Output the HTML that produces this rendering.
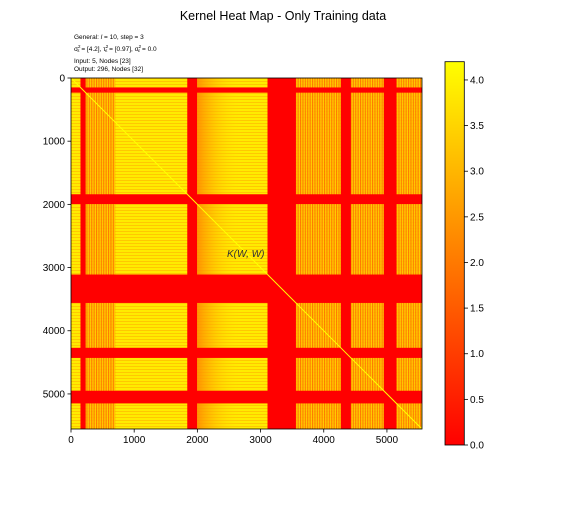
<!DOCTYPE html>
<html><head><meta charset="utf-8"><style>
body{margin:0;background:#fff;}
svg text{font-family:"Liberation Sans","DejaVu Sans",sans-serif;}
</style></head><body>
<svg id="c" width="566" height="510" xmlns="http://www.w3.org/2000/svg">
<defs>
<linearGradient id="cb" x1="0" y1="1" x2="0" y2="0"><stop offset="0" stop-color="#ff0000"/><stop offset="1" stop-color="#ffff00"/></linearGradient>
<pattern id="stripes" width="2.4" height="6" patternUnits="userSpaceOnUse"><rect width="2.4" height="6" fill="#ffc800"/><rect width="1.1" height="6" fill="#ff6a00"/></pattern>
<pattern id="hstripes" width="6" height="3" patternUnits="userSpaceOnUse"><rect width="6" height="3" fill="#ffe600"/><rect width="6" height="1" fill="#ff9000"/></pattern>
<linearGradient id="fade" x1="0" y1="0" x2="1" y2="0"><stop offset="0" stop-color="#ff8a00" stop-opacity="0.9"/><stop offset="1" stop-color="#ffee00" stop-opacity="0"/></linearGradient>
<clipPath id="plotclip"><rect x="71" y="78" width="351" height="351"/></clipPath>
</defs>
<text x="283" y="20" text-anchor="middle" font-size="12.5">Kernel Heat Map - Only Training data</text>
<g font-size="6.5" fill="#000">
<text x="74" y="39">General: <tspan font-style="italic">l</tspan> = 10, step = 3</text>
<text x="74" y="51">σ<tspan font-size="4.5" dy="-3">2</tspan><tspan font-size="4.5" dy="4" dx="-3">ε</tspan><tspan dy="-1"> = [4.2], τ</tspan><tspan font-size="4.5" dy="-3">2</tspan><tspan font-size="4.5" dy="4" dx="-3">ε</tspan><tspan dy="-1"> = [0.97], σ</tspan><tspan font-size="4.5" dy="-3">2</tspan><tspan font-size="4.5" dy="4" dx="-3">ε</tspan><tspan dy="-1"> = 0.0</tspan></text>
<text x="74" y="63">Input: 5, Nodes [23]</text>
<text x="74" y="71">Output: 296, Nodes [32]</text>
</g>
<g id="heat" clip-path="url(#plotclip)"></g>
<rect x="71" y="78" width="351" height="351" fill="none" stroke="#000" stroke-width="0.8"/>
<g id="axes"></g>
<rect x="445" y="61.7" width="19.3" height="383.3" fill="url(#cb)" stroke="#000" stroke-width="0.8"/>
<g id="cbticks"></g>
<text x="227" y="257" font-size="10" font-style="italic" fill="#333">K(W, W)</text>
</svg>
<script>
const N = 5555;
const xTicks = [0, 1000, 2000, 3000, 4000, 5000];
const yTicks = [0, 1000, 2000, 3000, 4000, 5000];
const cbTicks = [0.0, 0.5, 1.0, 1.5, 2.0, 2.5, 3.0, 3.5, 4.0];
const cbMax = 4.2;
const redBandStart = [150, 1840, 3110, 4270, 4950];
const redBandEnd = [232, 1995, 3560, 4430, 5150];
const stripeStart = [3560, 4430, 5150, 232];
const stripeEnd = [4270, 4950, 5555, 700];
const fadeStart = [1995];
const fadeEnd = [2700];
const diagStart = [0, 1840, 3110, 4270];
const diagEnd = [1840, 3110, 4270, 5555];

const X0 = 71, Y0 = 78, W = 351;
const sx = v => X0 + v / N * W;
const sy = v => Y0 + v / N * W;
const cbY = v => 445 - v / cbMax * 383.3;
const NS = 'http://www.w3.org/2000/svg';
function mk(tag, attrs, parent) {
  const e = document.createElementNS(NS, tag);
  for (const k in attrs) e.setAttribute(k, attrs[k]);
  parent.appendChild(e); return e;
}
const heat = document.getElementById('heat');
let r = mk('rect', {x: X0, y: Y0, width: W, height: W, fill: '#ffee00'}, heat);


r = mk('rect', {x: X0, y: Y0, width: W, height: W, fill: 'url(#hstripes)', opacity: 0.4}, heat);


for (let i = 0; i < fadeStart.length; i++) {
  const f = mk('rect', {x: sx(fadeStart[i]), y: Y0, width: sx(fadeEnd[i]) - sx(fadeStart[i]), height: W, fill: 'url(#fade)'}, heat);
  
  
}
for (let i = 0; i < stripeStart.length; i++) {
  const s = mk('rect', {x: sx(stripeStart[i]), y: Y0, width: sx(stripeEnd[i]) - sx(stripeStart[i]), height: W, fill: 'url(#stripes)', opacity: 0.85}, heat);
  
  
}
for (let i = 0; i < redBandStart.length; i++) {
  const a = sx(redBandStart[i]), b = sx(redBandEnd[i]);
  const c = mk('rect', {x: a, y: Y0, width: b - a, height: W, fill: '#ff0000'}, heat);
  
  
  const ya = sy(redBandStart[i]), yb = sy(redBandEnd[i]);
  const rr = mk('rect', {x: X0, y: ya, width: W, height: yb - ya, fill: '#ff0000'}, heat);
  
  
}
for (let i = 0; i < diagStart.length; i++) {
  const l = mk('line', {x1: sx(diagStart[i]), y1: sy(diagStart[i]), x2: sx(diagEnd[i]), y2: sy(diagEnd[i]), stroke: '#ffff00', 'stroke-width': 1}, heat);
  
  
}
const axes = document.getElementById('axes');
xTicks.forEach(t => {
  const x = sx(t);
  const l = mk('line', {x1: x, y1: 429, x2: x, y2: 432.5, stroke: '#000', 'stroke-width': 0.8}, axes);
  
  
  const tx = mk('text', {x: x, y: 443, 'text-anchor': 'middle', 'font-size': 10}, axes);
  tx.textContent = t;
  
  
});
yTicks.forEach(t => {
  const y = sy(t);
  const l = mk('line', {x1: 67.5, y1: y, x2: 71, y2: y, stroke: '#000', 'stroke-width': 0.8}, axes);
  
  
  const tx = mk('text', {x: 65, y: y + 3.5, 'text-anchor': 'end', 'font-size': 10}, axes);
  tx.textContent = t;
  
  
});
const cbt = document.getElementById('cbticks');
cbTicks.forEach(t => {
  const y = cbY(t);
  const l = mk('line', {x1: 464.3, y1: y, x2: 468, y2: y, stroke: '#000', 'stroke-width': 0.8}, cbt);
  
  
  const tx = mk('text', {x: 470, y: y + 3.5, 'font-size': 10}, cbt);
  tx.textContent = t.toFixed(1);
  
  
});
</script>
</body></html>
